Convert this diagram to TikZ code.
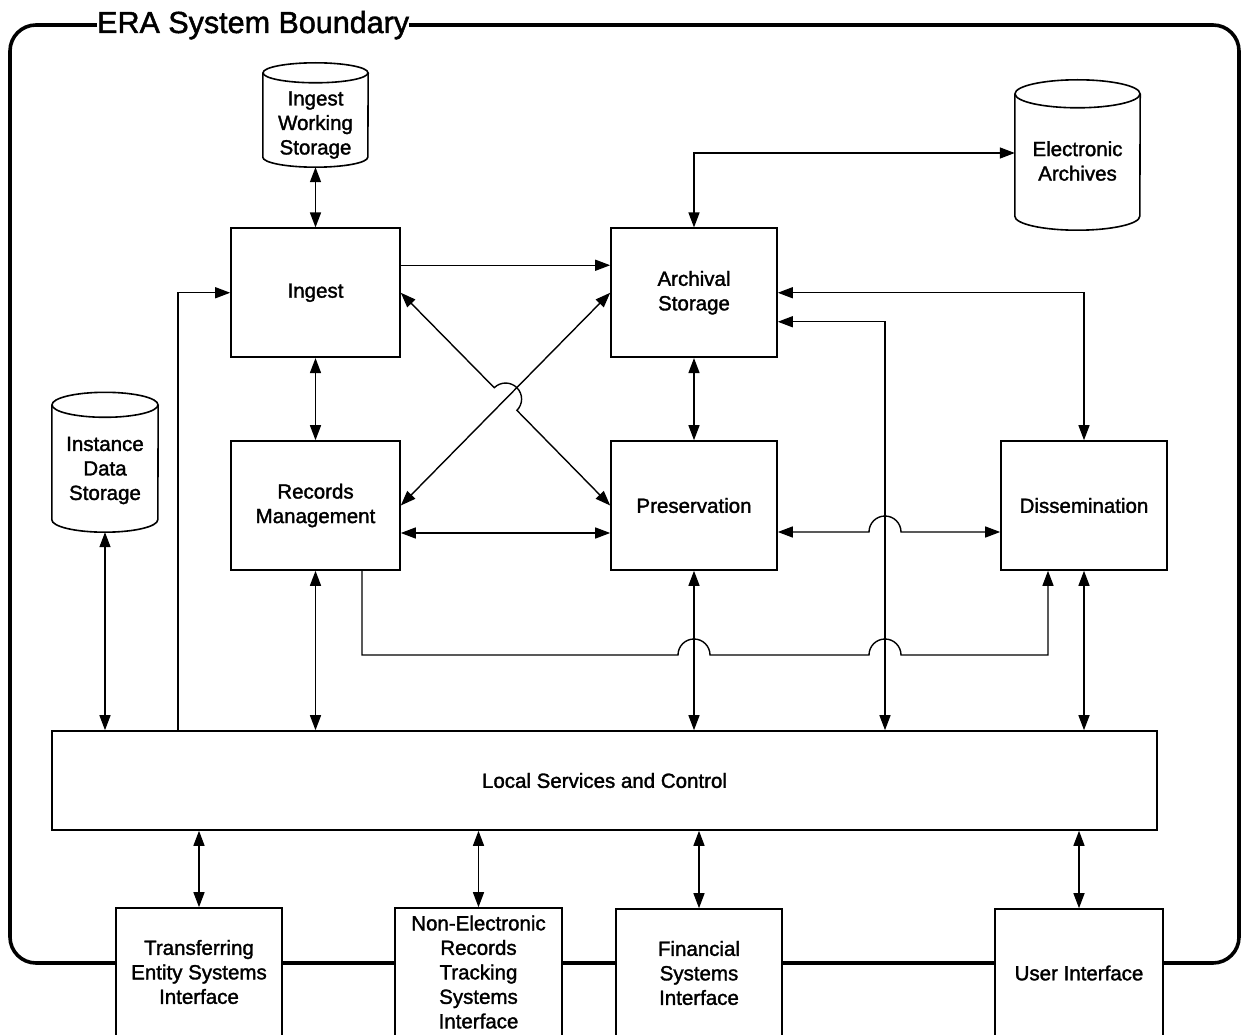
\documentclass[tikz,border=0pt]{standalone}
\usepackage{fontspec}
\setmainfont{Liberation Sans}[FakeBold=1.6]
\usetikzlibrary{arrows.meta,calc}
\newcommand{\eraboxfont}{\fontsize{20.5}{24.5}\selectfont}
\newcommand{\eracylout}[3]{%
  \draw[cylline] (#1.north) ellipse[x radius=#2, y radius=#3];
  \draw[cylline] (#1.north west) -- ([yshift=#3pt]#1.south west)
    arc[start angle=180,end angle=0,x radius=#2,y radius=#3] -- (#1.north east);}
\begin{document}
\begin{tikzpicture}[x=1pt,y=-1pt,
  box/.style={draw, line width=1.6pt, fill=white, rectangle, inner sep=0pt, align=center, font=\eraboxfont},
  cyl/.style={rectangle, inner sep=0pt, align=center, font=\eraboxfont},
  cyltext/.style={inner sep=0pt, align=center, font=\eraboxfont},
  cylline/.style={line width=1.6pt},
  conn/.style={line width=1.4pt},
  dbl/.style={conn, {Triangle[length=15pt,width=11pt]}-{Triangle[length=15pt,width=11pt]}},
  sgl/.style={conn, -{Triangle[length=15pt,width=11pt]}},
  boundary/.style={line width=3.6pt, rounded corners=26pt}
]
\clip (0,0) rectangle (1242,1035);
\fill[white] (0,0) rectangle (1242,1035);

% system boundary
\draw[boundary] (10,25) rectangle (1239,963);
\node[anchor=base west, fill=white, inner sep=0pt, font=\fontsize{30.5}{36}\selectfont] (title) at (97,33) {ERA System Boundary};

% main boxes
\node[box, minimum width=169pt, minimum height=129pt] (ingest) at (315.5,292.75) {Ingest};
\node[box, minimum width=166pt, minimum height=129pt] (as) at (694,292.75) {Archival\\Storage};
\node[box, minimum width=169pt, minimum height=129pt] (rm) at (315.5,505.5) {Records\\Management};
\node[box, minimum width=166pt, minimum height=129pt] (pres) at (694,505.5) {Preservation};
\node[box, minimum width=166pt, minimum height=129pt] (diss) at (1084,505.5) {Dissemination};
\node[box, minimum width=1105pt, minimum height=99pt] (lsc) at (604.5,780.5) {Local Services and Control};

% bottom interfaces
\node[box, minimum width=166pt, minimum height=128pt] (tesi) at (199,972) {Transferring\\Entity Systems\\Interface};
\node[box, minimum width=167pt, minimum height=128pt] (nert) at (478.5,972) {Non-Electronic\\Records\\Tracking\\Systems\\Interface};
\node[box, minimum width=166pt, minimum height=128pt] (fsi) at (699,973) {Financial\\Systems\\Interface};
\node[box, minimum width=168pt, minimum height=128pt] (ui) at (1079,973) {User Interface};

% storages
\node[cyl, minimum width=105pt, minimum height=94pt] (iws) at (315.5,120) {};
\node[cyltext] (iwst) at ([yshift=-5pt]iws.center) {Ingest\\Working\\Storage};
\eracylout{iws}{52.5}{10}
\node[cyl, minimum width=125pt, minimum height=136pt] (ea) at (1077.5,162) {};
\node[cyltext] (eat) at ([yshift=1pt]ea.center) {Electronic\\Archives};
\eracylout{ea}{62.5}{14}
\node[cyl, minimum width=106pt, minimum height=127pt] (ids) at (105,468.5) {};
\node[cyltext] (idst) at ([yshift=-2pt]ids.center) {Instance\\Data\\Storage};
\eracylout{ids}{53}{12.5}

% helper columns
\coordinate (xa) at (178,0);
\coordinate (xb) at (885,0);
\coordinate (xc) at (362,0);
\coordinate (xd) at (1048,0);

% connectors
\draw[dbl] (iws.south) -- (ingest.north);
\draw[sgl] ([yshift=27.5pt]ingest.east) -- ([yshift=27.5pt]as.west);
\draw[sgl] (lsc.north -| xa) |- (ingest.west);
\draw[dbl] (ingest.south) -- (rm.north);
\coordinate (X) at ($(ingest.east)!0.5!(pres.west)$);
\draw[dbl] (ingest.east) -- ($(X)!16pt!(ingest.east)$)
  arc[start angle=225,end angle=405,radius=16] -- (pres.west);
\draw[dbl] (rm.east) -- (as.west);
\draw[dbl] ([yshift=-27.5pt]rm.east) -- ([yshift=-27.5pt]pres.west);
\draw[dbl] (as.south) -- (pres.north);
\draw[dbl] (as.north) |- ([yshift=9pt]ea.west);
\draw[dbl] (as.east) -| (diss.north);
\draw[dbl] (lsc.north -| xb) |- ([yshift=-29pt]as.east);
\draw[dbl] ([yshift=-26.5pt]pres.east) -- (869,532)
  arc[start angle=180,end angle=360,radius=16] -- ([yshift=-26.5pt]diss.west);
\draw[sgl] (rm.south -| xc) -- (362,655) -- (678,655)
  arc[start angle=180,end angle=360,radius=16] -- (869,655)
  arc[start angle=180,end angle=360,radius=16] -- (1048,655) -- (diss.south -| xd);
\draw[dbl] (rm.south) -- (rm.south |- lsc.north);
\draw[dbl] (pres.south) -- (pres.south |- lsc.north);
\draw[dbl] (diss.south) -- (diss.south |- lsc.north);
\draw[dbl] (ids.south) -- (ids.south |- lsc.north);
\draw[dbl] (lsc.south -| tesi.north) -- (tesi.north);
\draw[dbl] (lsc.south -| nert.north) -- (nert.north);
\draw[dbl] (lsc.south -| fsi.north) -- (fsi.north);
\draw[dbl] (lsc.south -| ui.north) -- (ui.north);
\end{tikzpicture}
\end{document}
